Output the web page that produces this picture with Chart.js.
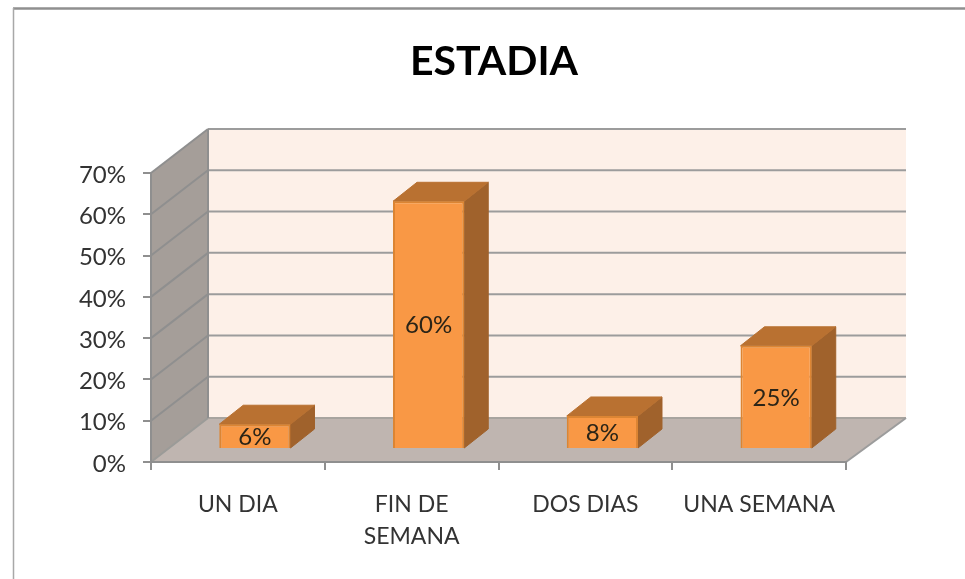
<!DOCTYPE html>
<html><head><meta charset="utf-8">
<style>html,body{margin:0;padding:0;background:#fff}canvas{display:block}</style>
<script src="https://cdn.jsdelivr.net/npm/chart.js@4"></script>
</head><body>
<canvas id="c" width="965" height="579"></canvas>
<script>
const titleText = 'ESTADIA';
const categories = ['UN DIA', ['FIN DE', 'SEMANA'], 'DOS DIAS', 'UNA SEMANA'];
const values = [6, 60, 8, 25];
const valueLabels = ['6%', '60%', '8%', '25%'];
const yMax = 70, yStep = 10;

const wallDepth = {dx: 57, dy: -44};
const barShift = {dx: 17, dy: -13};
const barDepth = {dx: 24, dy: -19};
const textFont = 'Lato';

function poly(ctx, pts, fill, stroke, lw) {
  ctx.beginPath();
  pts.forEach((p, i) => i ? ctx.lineTo(p[0], p[1]) : ctx.moveTo(p[0], p[1]));
  ctx.closePath();
  if (fill) { ctx.fillStyle = fill; ctx.fill(); }
  if (stroke) { ctx.strokeStyle = stroke; ctx.lineWidth = lw; ctx.stroke(); }
}
function line(ctx, x1, y1, x2, y2, c, w) {
  ctx.beginPath(); ctx.moveTo(x1, y1); ctx.lineTo(x2, y2);
  ctx.strokeStyle = c; ctx.lineWidth = w; ctx.stroke();
}

const scene3d = {
  id: 'scene3d',
  afterLayout(chart) { chart.titleBlock.left += 142; },
  afterUpdate(chart) {
    chart.scales.y.getLabelItems(chart.chartArea).forEach(it => { it.options.translation[1] += 2; });
  },
  beforeDraw(chart) {
    const {ctx, chartArea: a} = chart, y = chart.scales.y;
    const dx = wallDepth.dx, dy = wallDepth.dy;
    ctx.save();
    ctx.fillStyle = '#fff'; ctx.fillRect(0, 0, chart.width, chart.height);
    // picture frame
    line(ctx, 13, 8.5, chart.width, 8.5, '#8f8f8f', 2.5);
    line(ctx, 13.5, 8, 13.5, chart.height, '#a8a8a8', 1.5);
    // back wall
    poly(ctx, [[a.left + dx, a.top + dy], [a.right + dx + 3, a.top + dy], [a.right + dx + 3, a.bottom + dy], [a.left + dx, a.bottom + dy]], '#fdf0e8');
    // floor
    poly(ctx, [[a.left, a.bottom], [a.left + dx, a.bottom + dy], [a.right + dx + 3, a.bottom + dy], [a.right, a.bottom]], '#bfb5b0');
    // left wall
    poly(ctx, [[a.left, a.top], [a.left + dx, a.top + dy], [a.left + dx, a.bottom + dy], [a.left, a.bottom]], '#a59e99');
    // grid
    for (let v = 0; v <= yMax; v += yStep) {
      const p = y.getPixelForValue(v);
      line(ctx, a.left, p, a.left + dx, p + dy, v === 0 ? '#9b9b98' : '#8f8f8f', 2);
      line(ctx, a.left + dx, p + dy, a.right + dx + 3, p + dy, v === 0 ? '#a8a49f' : '#9c9c9c', 2);
    }
    line(ctx, a.left + dx, a.top + dy, a.left + dx, a.bottom + dy, '#8f8f8f', 2);
    line(ctx, a.right, a.bottom, a.right + dx + 3, a.bottom + dy, '#9c9c9c', 2);
    ctx.restore();
  },
  beforeDatasetDraw(chart, args) {
    const {ctx} = chart, s = barShift, d = barDepth;
    ctx.save();
    ctx.translate(s.dx, s.dy);
    args.meta.data.forEach(b => {
      const l = b.x - b.width / 2, r = b.x + b.width / 2;
      poly(ctx, [[r, b.y], [r + d.dx, b.y + d.dy], [r + d.dx, b.base + d.dy], [r, b.base]], '#a0622c', '#a0622c', 1);
      poly(ctx, [[l, b.y], [l + d.dx, b.y + d.dy], [r + d.dx, b.y + d.dy], [r, b.y]], '#b97131', '#b97131', 1);
    });
  },
  afterDatasetDraw(chart) { chart.ctx.restore(); },
  afterDatasetsDraw(chart) {
    const {ctx} = chart, s = barShift;
    ctx.save();
    ctx.fillStyle = '#2b2417';
    ctx.font = '24px ' + textFont;
    ctx.textAlign = 'center'; ctx.textBaseline = 'middle';
    chart.getDatasetMeta(0).data.forEach((b, i) => {
      ctx.fillText(valueLabels[i], b.x + s.dx, (b.y + b.base) / 2 + s.dy + 1);
    });
    ctx.restore();
  }
};

new Chart(document.getElementById('c'), {
  type: 'bar',
  data: {
    labels: categories,
    datasets: [{
      data: values,
      backgroundColor: '#f99845',
      borderColor: '#dc8533',
      borderWidth: 2,
      barPercentage: 0.41,
      categoryPercentage: 1,
      clip: false
    }]
  },
  plugins: [scene3d],
  options: {
    responsive: false,
    animation: false,
    layout: {padding: {left: 0, right: 119, top: 0, bottom: 0}},
    plugins: {
      legend: {display: false},
      tooltip: {enabled: false},
      title: {
        display: true,
        text: titleText,
        color: '#000',
        fullSize: true,
        font: {family: textFont, size: 41, weight: 'bold', lineHeight: 1.2},
        padding: {top: 37, bottom: 86.8}
      }
    },
    scales: {
      x: {
        afterFit(s) { s.height = 117; },
        border: {display: true, color: '#8f8f8f', width: 2},
        grid: {display: true, offset: true, drawOnChartArea: false, drawTicks: true, tickLength: 8, color: '#8f8f8f', lineWidth: 2},
        ticks: {color: '#333', font: {family: textFont, size: 23, lineHeight: 1.39}, padding: 19, maxRotation: 0, autoSkip: false}
      },
      y: {
        min: 0, max: yMax,
        afterFit(s) { s.width = 151; },
        border: {display: true, color: '#8f8f8f', width: 2},
        grid: {display: true, drawOnChartArea: false, drawTicks: true, tickLength: 8, color: '#8f8f8f', lineWidth: 2},
        ticks: {stepSize: yStep, color: '#333', font: {family: textFont, size: 24}, padding: 17, callback: v => v + '%'}
      }
    }
  }
});
</script>
</body></html>
